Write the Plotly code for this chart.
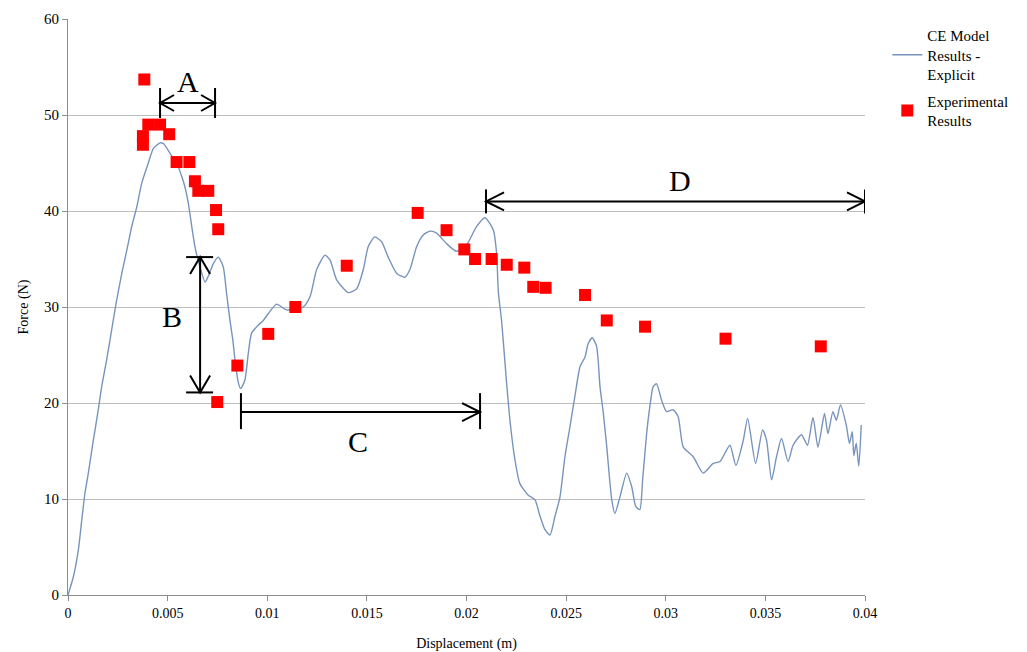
import plotly.graph_objects as go

# CE model (explicit) force-displacement curve
model_disp = [0.0, 0.00027, 0.00052, 0.00069, 0.00085, 0.00102, 0.00127, 0.00152, 0.00169, 0.00194,
              0.00227, 0.00244, 0.0027, 0.00295, 0.0032, 0.00345, 0.0037, 0.00403, 0.00428, 0.00462,
              0.0048, 0.00512, 0.00545, 0.00571, 0.00587, 0.00604, 0.00621, 0.00637, 0.00662, 0.00688,
              0.00704, 0.00729, 0.00754, 0.00779, 0.00796, 0.00813, 0.00827, 0.00838, 0.00855, 0.00867,
              0.00888, 0.00905, 0.00922, 0.00955, 0.0098, 0.01005, 0.01047,
              0.01097, 0.0118, 0.01215, 0.01248, 0.0129, 0.01315, 0.01349, 0.01407, 0.01449, 0.01482,
              0.01507, 0.0154, 0.01574, 0.01607, 0.0165, 0.01691, 0.01716, 0.0175, 0.01783, 0.01817,
              0.0185, 0.019, 0.0195, 0.02001, 0.02051, 0.02093, 0.02135, 0.02151, 0.0216, 0.02176,
              0.022, 0.02218, 0.02243, 0.02268, 0.0231, 0.02344, 0.02369, 0.02394, 0.02419, 0.02444,
              0.02469, 0.02494, 0.02519, 0.02544, 0.0257, 0.02595, 0.02611, 0.02631, 0.02653, 0.0267,
              0.02687, 0.02704, 0.02729, 0.02745, 0.0277, 0.02804, 0.02829, 0.0285, 0.0287, 0.02884,
              0.02904, 0.0292, 0.02937, 0.02954, 0.02979, 0.03004, 0.03037, 0.03062, 0.03088, 0.03138,
              0.03188, 0.03238, 0.03272, 0.03322, 0.03352, 0.03389, 0.03411, 0.03451, 0.03486, 0.03506,
              0.03531, 0.03556, 0.03581, 0.03614, 0.03639, 0.03681, 0.03711, 0.03739, 0.03764, 0.03797,
              0.03814, 0.03839, 0.03856, 0.03877, 0.03906, 0.03922, 0.03936, 0.03944, 0.03956, 0.03969,
              0.03981]
model_force = [0.0, 1.9, 4.7, 7.8, 10.6, 12.7, 16.1, 19.3, 21.7, 24.5,
               28.6, 30.7, 33.5, 35.9, 38.4, 40.4, 42.9, 45.0, 46.5, 47.1,
               47.0, 46.0, 45.0, 43.6, 42.5, 40.8, 38.4, 36.3, 34.2, 32.6,
               33.2, 34.5, 35.2, 34.2, 31.4, 28.6, 26.6, 24.5, 22.1, 21.5,
               22.4, 25.2, 27.3, 28.1, 28.6, 29.3, 30.3,
               29.7, 30.0, 31.1, 33.9, 35.4, 34.9, 32.8, 31.5, 31.9, 33.9,
               36.3, 37.3, 36.8, 35.2, 33.5, 33.1, 33.9, 36.3, 37.5, 37.9,
               37.7, 36.6, 35.8, 36.5, 38.4, 39.3, 38.0, 35.6, 31.5, 28.6,
               22.4, 18.2, 14.1, 11.6, 10.4, 9.9, 8.2, 6.8, 6.25, 8.2,
               10.2, 14.4, 17.5, 20.7, 23.8, 24.8, 26.2, 26.8, 25.9, 21.7,
               18.9, 15.4, 9.9, 8.5, 10.2, 12.7, 11.3, 9.2, 8.9, 12.0,
               16.8, 19.6, 21.7, 22.0, 20.3, 19.1, 19.3, 18.6, 15.4, 14.4,
               12.7, 13.7, 13.9, 15.6, 13.5, 16.1, 18.4, 13.7, 17.2, 16.1,
               12.0, 14.4, 16.3, 13.9, 15.6, 16.7, 15.6, 18.5, 15.4, 18.9,
               16.8, 19.1, 18.2, 19.8, 17.7, 15.8, 17.0, 14.5, 15.8, 13.4,
               17.7]

# Experimental measurements
exp_disp = [0.00383, 0.00376, 0.00376, 0.00403, 0.00462, 0.00508, 0.00545, 0.00609, 0.00637,
            0.00654, 0.00704, 0.00743, 0.00754, 0.00749, 0.0085, 0.01005, 0.01141, 0.01399,
            0.01755, 0.019, 0.01989, 0.02043, 0.02126, 0.02202, 0.0229, 0.02335, 0.02397,
            0.02595, 0.02704, 0.02896, 0.033, 0.03778]
exp_force = [53.7, 47.8, 46.9, 49.0, 49.0, 48.0, 45.1, 45.1, 43.1,
             42.1, 42.1, 40.1, 38.1, 20.1, 23.9, 27.2, 30.0, 34.3,
             39.8, 38.0, 36.0, 35.0, 35.0, 34.4, 34.1, 32.1, 32.0,
             31.25, 28.6, 27.95, 26.7, 25.9]

x_ticks = [0, 0.005, 0.01, 0.015, 0.02, 0.025, 0.03, 0.035, 0.04]
x_tick_text = ["0", "0.005", "0.01", "0.015", "0.02", "0.025", "0.03", "0.035", "0.04"]
y_ticks = [0, 10, 20, 30, 40, 50, 60]

X_RANGE = [0, 0.04]
Y_RANGE = [0, 60]
PLOT_W = 797
PLOT_H = 576


def dx(px):
    return px * (X_RANGE[1] - X_RANGE[0]) / PLOT_W


def dy(px):
    return px * (Y_RANGE[1] - Y_RANGE[0]) / PLOT_H


fig = go.Figure()
fig.add_trace(go.Scatter(
    x=model_disp, y=model_force, mode="lines",
    name="CE Model<br>Results -<br>Explicit", legendgroup="model",
    line=dict(color="#7894BC", width=1.4, shape="spline", smoothing=0.6),
))
fig.add_trace(go.Scatter(
    x=exp_disp, y=exp_force, mode="markers",
    name="Experimental<br>Results", legendgroup="exp",
    marker=dict(symbol="square", size=12, color="#FF0000", line=dict(width=0)),
))

shapes = []
line_style = dict(color="black", width=2)


def seg(x0, y0, x1, y1):
    shapes.append(dict(type="line", xref="x", yref="y", x0=x0, y0=y0, x1=x1, y1=y1,
                       line=line_style))


def head(xt, yt, direction, length=16, half=8):
    # open V arrow head with tip at (xt, yt)
    if direction == "left":
        pts = [(xt + dx(length), yt + dy(half)), (xt, yt), (xt + dx(length), yt - dy(half))]
    elif direction == "right":
        pts = [(xt - dx(length), yt + dy(half)), (xt, yt), (xt - dx(length), yt - dy(half))]
    elif direction == "up":
        pts = [(xt - dx(half), yt - dy(length)), (xt, yt), (xt + dx(half), yt - dy(length))]
    else:
        pts = [(xt - dx(half), yt + dy(length)), (xt, yt), (xt + dx(half), yt + dy(length))]
    path = "M {} {} L {} {} L {} {}".format(pts[0][0], pts[0][1], pts[1][0], pts[1][1],
                                           pts[2][0], pts[2][1])
    shapes.append(dict(type="path", xref="x", yref="y", path=path, line=line_style))


# A: peak offset
a_y = 51.25
a_x0, a_x1 = 0.00462, 0.00738
seg(a_x0, a_y, a_x1, a_y)
seg(a_x0, a_y - dy(15), a_x0, a_y + dy(15))
seg(a_x1, a_y - dy(15), a_x1, a_y + dy(15))
head(a_x0, a_y, "left", 14, 8)
head(a_x1, a_y, "right", 14, 8)

# B: force drop
b_x = 0.00663
b_y0, b_y1 = 21.1, 35.2
seg(b_x, b_y0, b_x, b_y1)
seg(b_x - dx(14), b_y1, b_x + dx(13), b_y1)
seg(b_x - dx(14), b_y0, b_x + dx(13), b_y0)
head(b_x, b_y1, "up", 17, 10)
head(b_x, b_y0, "down", 17, 10)

# C: reloading span
c_y = 19.05
c_x0, c_x1 = 0.00868, 0.02068
seg(c_x0, c_y, c_x1, c_y)
seg(c_x0, c_y - dy(17), c_x0, c_y + dy(19))
seg(c_x1, c_y - dy(17), c_x1, c_y + dy(19))
head(c_x1, c_y, "right", 18, 9)

# D: post-failure span
d_y = 41.0
d_x0, d_x1 = 0.02098, 0.04
seg(d_x0, d_y, d_x1, d_y)
seg(d_x0, d_y - dy(12), d_x0, d_y + dy(12))
seg(d_x1, d_y - dy(12), d_x1, d_y + dy(12))
head(d_x0, d_y, "left", 18, 9)
head(d_x1, d_y, "right", 18, 9)

label_font = dict(family="Liberation Serif", size=30, color="black")
annotations = [
    dict(x=0.0060, y=53.5, text="A"),
    dict(x=0.00523, y=29.0, text="B"),
    dict(x=0.01455, y=16.0, text="C"),
    dict(x=0.0307, y=43.2, text="D"),
]
for a in annotations:
    a.update(xref="x", yref="y", showarrow=False, font=label_font,
             xanchor="center", yanchor="middle")

fig.update_layout(
    width=1027, height=652,
    margin=dict(l=68, r=162, t=19, b=57),
    paper_bgcolor="white", plot_bgcolor="white",
    font=dict(family="Liberation Serif", size=14, color="black"),
    shapes=shapes,
    annotations=annotations,
    showlegend=True,
    legend=dict(x=1.028, y=1.0, xanchor="left", yanchor="top",
                font=dict(family="Liberation Serif", size=15, color="black"),
                bgcolor="rgba(0,0,0,0)", tracegroupgap=4, itemwidth=30),
    xaxis=dict(range=X_RANGE, tickvals=x_ticks, ticktext=x_tick_text, automargin=False,
               showgrid=False, zeroline=False, showline=True, linecolor="#8C8C8C",
               linewidth=1, ticks="outside", ticklen=5, tickcolor="#8C8C8C",
               tickfont=dict(family="Liberation Serif", size=14),
               title=dict(text="Displacement (m)", font=dict(family="Liberation Serif", size=14),
                          standoff=18)),
    yaxis=dict(range=Y_RANGE, tickvals=y_ticks, automargin=False,
               showgrid=True, gridcolor="#BEBEBE", gridwidth=1, zeroline=False,
               showline=True, linecolor="#8C8C8C", linewidth=1,
               ticks="outside", ticklen=5, tickcolor="#8C8C8C",
               tickfont=dict(family="Liberation Serif", size=15),
               title=dict(text="Force (N)", font=dict(family="Liberation Serif", size=14),
                          standoff=12)),
)

fig.write_html("out.html")
